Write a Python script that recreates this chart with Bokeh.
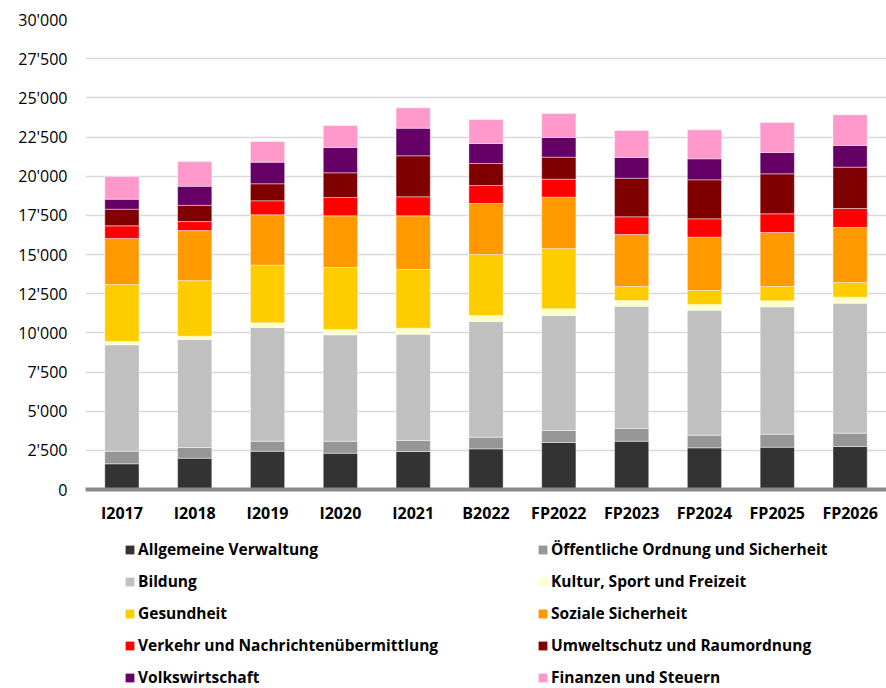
from bokeh.plotting import figure
from bokeh.layouts import column
from bokeh.models import FactorRange, Range1d, FixedTicker, Legend, LegendItem, ColumnDataSource
from bokeh.embed import file_html
from bokeh.resources import INLINE

categories = ["I2017", "I2018", "I2019", "I2020", "I2021", "B2022",
              "FP2022", "FP2023", "FP2024", "FP2025", "FP2026"]

allgemeine = [1640, 2000, 2445, 2317, 2425, 2596, 3000, 3083, 2660, 2702, 2745]
oeffentliche = [806, 680, 640, 766, 703, 744, 766, 811, 808, 830, 851]
bildung = [6790, 6895, 7255, 6790, 6787, 7383, 7340, 7808, 7979, 8128, 8298]
kultur = [211, 210, 300, 340, 383, 383, 426, 362, 362, 383, 383]
gesundheit = [3638, 3550, 3680, 3957, 3745, 3894, 3851, 893, 893, 914, 936]
soziale = [2935, 3190, 3215, 3300, 3427, 3255, 3277, 3320, 3405, 3447, 3510]
verkehr = [810, 575, 895, 1168, 1213, 1149, 1147, 1129, 1172, 1194, 1213]
umwelt = [1060, 1040, 1085, 1577, 2617, 1405, 1406, 2465, 2489, 2552, 2639]
volk = [640, 1215, 1380, 1615, 1764, 1276, 1255, 1321, 1339, 1361, 1383]
finanzen = [1450, 1575, 1320, 1404, 1300, 1532, 1532, 1723, 1850, 1915, 1958]

series_names = ["Allgemeine Verwaltung", "Öffentliche Ordnung und Sicherheit",
                "Bildung", "Kultur, Sport und Freizeit",
                "Gesundheit", "Soziale Sicherheit",
                "Verkehr und Nachrichtenübermittlung", "Umweltschutz und Raumordnung",
                "Volkswirtschaft", "Finanzen und Steuern"]
series_values = [allgemeine, oeffentliche, bildung, kultur, gesundheit,
                 soziale, verkehr, umwelt, volk, finanzen]
colors = ["#333333", "#969696", "#c0c0c0", "#ffffcc", "#ffcc00",
          "#ff9900", "#ff0000", "#800000", "#660066", "#ff99cc"]

y_ticks = list(range(0, 30001, 2500))
y_tick_labels = ["{:,}".format(t).replace(",", "'") for t in y_ticks]

keys = ["s%d" % i for i in range(len(series_names))]
data = {"cat": categories}
for k, v in zip(keys, series_values):
    data[k] = v
source = ColumnDataSource(data)

# ---- main chart ----
p = figure(x_range=FactorRange(*categories, range_padding=0),
           y_range=Range1d(0, 30000),
           width=886, height=528, output_backend="svg", toolbar_location=None,
           min_border_left=85, min_border_right=0, min_border_top=19,
           min_border_bottom=39)

renderers = p.vbar_stack(keys, x="cat", width=0.47, color=colors, source=source,
                         line_color="white", line_width=0.6, line_alpha=0.7)

p.outline_line_color = None
p.xgrid.grid_line_color = None
p.ygrid.grid_line_color = "#d9d9d9"
p.ygrid.grid_line_width = 1.5
p.ygrid.ticker = FixedTicker(ticks=y_ticks)

p.yaxis.ticker = FixedTicker(ticks=y_ticks)
p.yaxis.major_label_overrides = {t: l for t, l in zip(y_ticks, y_tick_labels)}
p.yaxis.axis_line_color = None
p.yaxis.major_tick_line_color = None
p.yaxis.minor_tick_line_color = None
p.yaxis.major_tick_out = 0
p.yaxis.major_tick_in = 0
p.yaxis.major_label_standoff = 18
p.yaxis.major_label_text_font = "Open Sans"
p.yaxis.major_label_text_font_size = "16px"
p.yaxis.major_label_text_color = "#000000"

p.xaxis.axis_line_color = "#898989"
p.xaxis.axis_line_width = 4
p.xaxis.major_tick_line_color = None
p.xaxis.minor_tick_line_color = None
p.xaxis.major_tick_out = 0
p.xaxis.major_tick_in = 0
p.xaxis.major_label_standoff = 12
p.xaxis.major_label_text_font = "Open Sans"
p.xaxis.major_label_text_font_style = "bold"
p.xaxis.major_label_text_font_size = "16px"
p.xaxis.major_label_text_color = "#000000"

# ---- legend panel (same stacked data, kept far outside the visible y range) ----
lg = figure(width=886, height=160, output_backend="svg", toolbar_location=None,
            x_range=FactorRange(*categories, range_padding=0),
            y_range=Range1d(50000, 60000),
            x_axis_location=None, y_axis_location=None,
            min_border=0, min_border_left=0, min_border_right=0,
            min_border_top=0, min_border_bottom=0)
lg.outline_line_color = None
lg.grid.grid_line_color = None

legend_renderers = lg.vbar_stack(keys, x="cat", width=0.47, color=colors, source=source,
                                 line_color=None)
items = [LegendItem(label=n, renderers=[r]) for n, r in zip(series_names, legend_renderers)]
legend = Legend(items=items, location=(39, 0), orientation="horizontal", ncols=2,
                glyph_width=11, glyph_height=11, label_standoff=3,
                label_width=389, label_height=18, spacing=10, padding=0, margin=0,
                border_line_color=None, background_fill_alpha=0,
                label_text_font="Open Sans", label_text_font_style="bold",
                label_text_font_size="15.5px", label_text_color="#000000")
lg.add_layout(legend)

layout = column(p, lg, spacing=0)
open("out.html", "w").write(file_html(layout, INLINE))
